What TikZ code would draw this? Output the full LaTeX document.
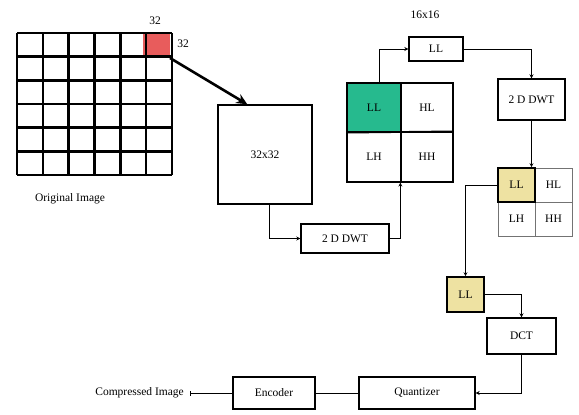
\documentclass[tikz,border=0pt]{standalone}
\usepackage{fontspec}
\setmainfont{Liberation Serif}
\usetikzlibrary{arrows.meta,calc}
\definecolor{cellgreen}{RGB}{38,186,142}
\definecolor{cellyellow}{RGB}{238,226,162}
\definecolor{cellred}{RGB}{232,92,92}
\begin{document}
\begin{tikzpicture}[x=1pt,y=-1pt,
  txt/.style={font=\fontsize{11.5}{13}\selectfont, inner sep=1pt},
  box/.style={draw, line width=1.4pt, inner sep=0pt, font=\fontsize{11.5}{13}\selectfont},
  cell/.style={draw, line width=1.2pt, inner sep=0pt, font=\fontsize{11.5}{13}\selectfont},
  gcell/.style={draw=black!55, line width=1pt, inner sep=0pt, font=\fontsize{11.5}{13}\selectfont},
  conn/.style={line width=1pt, -{Stealth[length=4pt,width=4pt]}},
]
\useasboundingbox (0,0) rectangle (579,415);
% original image grid
\fill[cellred] (143,33) rectangle (170,58);
\foreach \i in {0,...,6} {
  \draw[line width=2.6pt] ({17+\i*25.83},33) -- ({17+\i*25.83},175);
  \draw[line width=2.6pt] (17,{33+\i*23.67}) -- (172,{33+\i*23.67});
}
\coordinate (redcorner) at (170,58);
\node[txt] (n32a) at (155,21) {32};
\node[txt] (n32b) at (183,44) {32};
\node[txt] (orig) at (70,199) {Original Image};
% 32x32 block
\node[box, minimum width=94pt, minimum height=99pt] (b32) at (265,154.5) {32x32};
\draw[line width=2.6pt, -{Stealth[length=11pt,width=10pt]}] (redcorner) -- ($(b32.north west)+(30,0)$);
% first DWT
\node[box, minimum width=88pt, minimum height=29pt] (dwt1) at (345,238.5) {2 D DWT};
\draw[conn] ($(b32.south west)!0.55!(b32.south east)$) |- (dwt1.west);
% 16x16 sub-bands
\node[cell, fill=cellgreen, minimum width=54pt, minimum height=49pt] (llg) at (374,107.5) {LL};
\node[cell, minimum width=52pt, minimum height=49pt] (hlg) at (427,107.5) {HL};
\node[cell, minimum width=54pt, minimum height=50pt] (lhg) at (374,157) {LH};
\node[cell, minimum width=52pt, minimum height=50pt] (hhg) at (427,157) {HH};
\draw[line width=1.8pt] (llg.south west) -- (hhg.north east);
\draw[conn] (dwt1.east) -| (hhg.south west);
\node[txt] (n16) at (425,15) {16x16};
\node[box, minimum width=54pt, minimum height=24pt] (llbox) at (436,49) {LL};
\draw[conn] ($(llg.north)+(5,0)$) |- (llbox.west);
% second DWT
\node[box, minimum width=67pt, minimum height=41pt] (dwt2) at (531.5,99.5) {2 D DWT};
\draw[conn] (llbox.east) -| (dwt2.north);
% 8x8 sub-bands
\node[gcell, minimum width=37pt, minimum height=34pt] (hly) at (553.5,185) {HL};
\node[gcell, minimum width=37pt, minimum height=34pt] (lhy) at (516.5,219) {LH};
\node[gcell, minimum width=37pt, minimum height=34pt] (hhy) at (553.5,219) {HH};
\node[cell, line width=1.6pt, fill=cellyellow, minimum width=37pt, minimum height=34pt] (lly) at (516.5,185) {LL};
\draw[conn] (dwt2.south) -- (dwt2.south |- lly.north);
% LL to DCT
\node[cell, line width=1.6pt, fill=cellyellow, minimum width=37pt, minimum height=35pt] (ll2) at (465.5,294.5) {LL};
\draw[conn] (lly.west) -| (ll2.north);
\node[box, minimum width=69pt, minimum height=36pt] (dct) at (521.5,336) {DCT};
\draw[conn] (ll2.east) -| (dct.north);
\node[box, minimum width=116pt, minimum height=32pt] (quant) at (417,393) {Quantizer};
\draw[conn] (dct.south) |- (quant.east);
\node[box, minimum width=82pt, minimum height=32pt] (enc) at (274,393) {Encoder};
\draw[line width=1pt] (quant.west) -- (enc.east);
\node[txt, anchor=east, inner xsep=6pt] (comp) at (190,393) {Compressed Image};
\draw[line width=1pt, -{Bar[width=5pt]}] (enc.west) -- (comp.east);
\end{tikzpicture}
\end{document}
